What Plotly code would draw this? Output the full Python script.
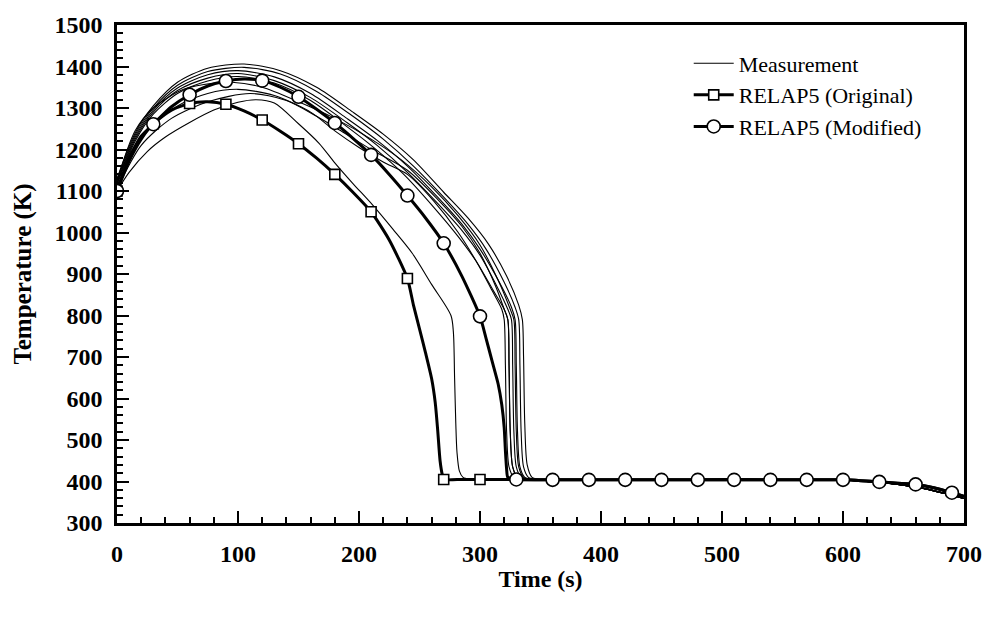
import plotly.graph_objects as go

# ---------------- data (time in s, temperature in K) ----------------
# Measurement thermocouples (quench part); common low-temperature tail appended below
M1_T = [0, 10, 25, 40, 60, 80, 100, 115, 130, 150, 167, 180, 195, 211, 228, 244, 260, 276, 278, 279, 280, 281, 283, 286, 292]
M1_V = [1100, 1145, 1195, 1230, 1265, 1295, 1314, 1320, 1312, 1262, 1215, 1168, 1118, 1067, 1008, 950, 875, 800, 760, 650, 540, 470, 425, 410, 406]

A_T = [0, 15, 30, 50, 75, 105, 135, 165, 195, 220, 245, 270, 290, 307, 322, 332, 335, 336, 337, 339, 343, 350]
A_V = [1130, 1240, 1305, 1362, 1396, 1406, 1390, 1350, 1290, 1237, 1175, 1097, 1035, 972, 895, 825, 790, 700, 540, 440, 410, 405]

B_T = [0, 15, 30, 50, 75, 105, 135, 165, 195, 220, 245, 270, 290, 305, 320, 329, 332, 333, 334, 336, 340, 348]
B_V = [1125, 1235, 1300, 1355, 1388, 1398, 1382, 1340, 1280, 1225, 1160, 1085, 1020, 960, 880, 820, 790, 680, 520, 435, 410, 405]

C_T = [0, 15, 30, 50, 75, 100, 130, 160, 190, 215, 240, 265, 285, 300, 316, 326, 329, 330, 331, 333, 337, 345]
C_V = [1120, 1230, 1295, 1348, 1380, 1390, 1375, 1335, 1275, 1222, 1160, 1085, 1020, 960, 880, 820, 790, 680, 520, 435, 410, 405]

D_T = [0, 15, 30, 50, 75, 100, 130, 160, 190, 215, 240, 265, 285, 300, 314, 323, 326, 327, 328, 330, 334, 342]
D_V = [1118, 1225, 1290, 1342, 1372, 1383, 1366, 1325, 1265, 1210, 1145, 1070, 1005, 945, 870, 815, 790, 680, 520, 435, 410, 405]

E_T = [0, 15, 30, 50, 75, 100, 130, 160, 190, 212, 237, 262, 282, 297, 311, 320, 323, 324, 325, 327, 331, 340]
E_V = [1115, 1220, 1285, 1335, 1365, 1376, 1360, 1318, 1255, 1205, 1140, 1060, 990, 930, 860, 815, 790, 680, 520, 435, 410, 405]

F_T = [0, 15, 30, 50, 75, 100, 130, 160, 180, 200, 220, 240, 262, 282, 297, 310, 318, 320, 321, 322, 324, 328, 338]
F_V = [1110, 1205, 1260, 1305, 1335, 1345, 1330, 1290, 1245, 1205, 1170, 1140, 1075, 1000, 930, 860, 815, 790, 680, 520, 435, 410, 405]

G_T = [0, 20, 45, 75, 110, 140, 165, 185, 210, 240, 265, 285, 300, 313, 320, 323, 324, 325, 327, 331, 340]
G_V = [1105, 1210, 1275, 1315, 1335, 1318, 1280, 1245, 1200, 1150, 1080, 1015, 950, 870, 815, 790, 680, 520, 435, 410, 405]

H_T = [0, 15, 30, 55, 80, 95, 120, 150, 180, 210, 235, 260, 282, 300, 315, 325, 328, 329, 330, 332, 336, 344]
H_V = [1125, 1245, 1300, 1345, 1360, 1362, 1350, 1315, 1275, 1225, 1175, 1110, 1040, 970, 885, 815, 790, 680, 520, 435, 410, 405]

MEAS_TAIL_T = [360, 420, 480, 540, 600, 630, 660, 690, 700]
MEAS_TAIL_V = [405, 405, 405, 405, 404, 398, 387, 367, 359]

# RELAP5 (Original)
ORIG_T = [0, 10, 20, 30, 45, 60, 75, 90, 105, 120, 135, 150, 165, 180, 195, 210, 225, 240, 245, 250, 255, 260,
          263, 265, 267, 269, 270, 285, 300, 315, 330, 360, 390, 420, 450, 480, 510, 540, 570, 600, 615, 630,
          645, 660, 675, 690, 700]
ORIG_V = [1100, 1172, 1225, 1262, 1295, 1311, 1315, 1309, 1293, 1271, 1244, 1214, 1179, 1140, 1097, 1050, 982, 889,
          825, 768, 710, 648, 590, 525, 450, 414, 405, 405, 405, 405, 405, 404, 404, 404, 404, 404, 404, 404, 404,
          404, 402, 399, 396, 393, 385, 373, 364]

# RELAP5 (Modified)
MOD_T = [0, 10, 20, 30, 45, 60, 75, 90, 105, 120, 135, 150, 165, 180, 195, 210, 225, 240, 255, 270, 285, 300,
         305, 310, 315, 318, 320, 321, 322, 323, 330, 360, 390, 420, 450, 480, 510, 540, 570, 600, 615, 630,
         645, 660, 675, 690, 700]
MOD_V = [1100, 1180, 1232, 1261, 1303, 1332, 1353, 1365, 1370, 1366, 1350, 1327, 1297, 1264, 1227, 1187, 1140,
         1089, 1035, 974, 895, 798, 745, 690, 635, 585, 530, 474, 430, 410, 405, 404, 404, 404, 404, 404, 404,
         404, 404, 404, 402, 399, 396, 393, 385, 373, 364]

ORIG_MARK_EVERY, ORIG_MARK_LAST = 30, 300
MOD_MARK_EVERY, MOD_MARK_LAST = 30, 690

X_TICKS = [0, 100, 200, 300, 400, 500, 600, 700]
Y_TICKS = [300, 400, 500, 600, 700, 800, 900, 1000, 1100, 1200, 1300, 1400, 1500]

# ---------------- figure ----------------
FONT = "Liberation Serif"
fig = go.Figure()

meas = [(M1_T, M1_V), (A_T, A_V), (B_T, B_V), (C_T, C_V), (D_T, D_V),
        (E_T, E_V), (F_T, F_V), (G_T, G_V), (H_T, H_V)]
for i, (t, v) in enumerate(meas):
    fig.add_trace(go.Scatter(
        x=list(t) + MEAS_TAIL_T, y=list(v) + MEAS_TAIL_V,
        mode="lines", line=dict(color="black", width=1.1, shape="spline", smoothing=0.8),
        name="Measurement", legendgroup="meas", showlegend=(i == 0), hoverinfo="skip"))


def marks(ts, every, last):
    on = [(t % every == 0 and t <= last) for t in ts]
    fill = ["white" if o else "rgba(0,0,0,0)" for o in on]
    edge = ["black" if o else "rgba(0,0,0,0)" for o in on]
    return fill, edge


of, oe = marks(ORIG_T, ORIG_MARK_EVERY, ORIG_MARK_LAST)
fig.add_trace(go.Scatter(
    x=ORIG_T, y=ORIG_V, mode="lines+markers", name="RELAP5 (Original)",
    line=dict(color="black", width=3, shape="spline", smoothing=0.6),
    marker=dict(symbol="square", size=10, color=of, line=dict(color=oe, width=1.6))))

mf, me = marks(MOD_T, MOD_MARK_EVERY, MOD_MARK_LAST)
fig.add_trace(go.Scatter(
    x=MOD_T, y=MOD_V, mode="lines+markers", name="RELAP5 (Modified)",
    line=dict(color="black", width=3, shape="spline", smoothing=0.6),
    marker=dict(symbol="circle", size=13, color=mf, line=dict(color=me, width=1.6))))

axis_common = dict(
    showline=True, linewidth=2.5, linecolor="black", mirror=True,
    showgrid=False, zeroline=False,
    ticks="inside", ticklen=12, tickwidth=2, tickcolor="black",
    tickfont=dict(family=FONT, size=24, color="black", weight="bold"),
)

fig.update_xaxes(
    range=[0, 700], tickmode="array", tickvals=X_TICKS, ticktext=[str(v) for v in X_TICKS],
    minor=dict(ticks="inside", ticklen=6, tickwidth=2, tickcolor="black",
               tickmode="array", tickvals=list(range(0, 701, 20))),
    title=dict(text="Time (s)", font=dict(family=FONT, size=24, color="black", weight="bold"), standoff=5),
    ticklabelstandoff=7,
    **axis_common)
fig.update_yaxes(
    range=[300, 1500], tickmode="array", tickvals=Y_TICKS, ticktext=[str(v) for v in Y_TICKS],
    minor=dict(ticks="inside", ticklen=6, tickwidth=2, tickcolor="black",
               tickmode="array", tickvals=list(range(300, 1501, 20))),
    title=dict(text="Temperature (K)", font=dict(family=FONT, size=25, color="black", weight="bold"), standoff=16),
    ticklabelstandoff=7,
    **axis_common)

fig.update_layout(
    width=994, height=617,
    margin=dict(l=117, r=27, t=17, b=94),
    paper_bgcolor="white", plot_bgcolor="white",
    font=dict(family=FONT, color="black", size=24),
    legend=dict(x=0.675, y=0.965, xanchor="left", yanchor="top", bgcolor="rgba(0,0,0,0)",
                font=dict(family=FONT, size=22, color="black"), tracegroupgap=0, itemwidth=40),
)

fig.write_html("out.html")
